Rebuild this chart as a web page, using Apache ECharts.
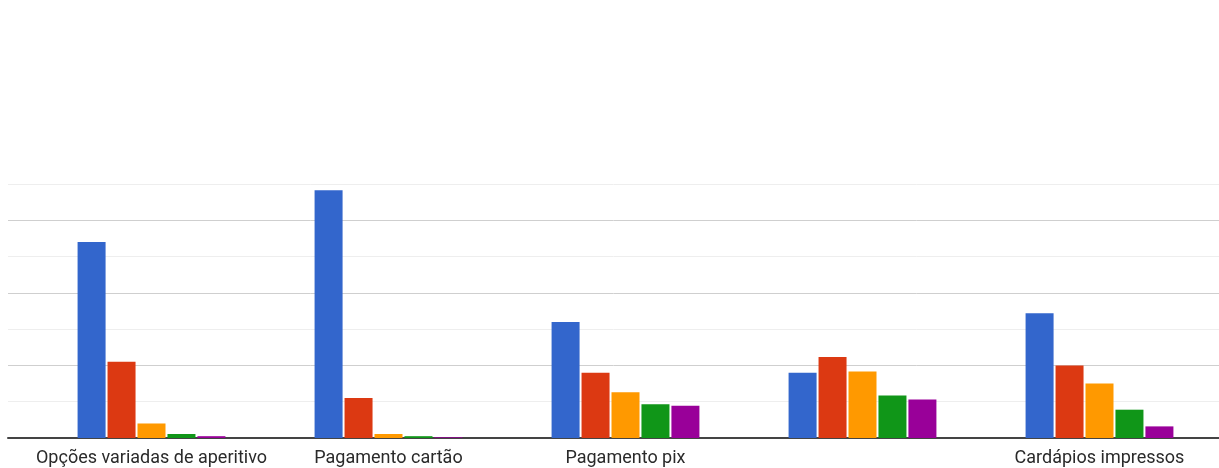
<!DOCTYPE html>
<html>
<head>
<meta charset="utf-8">
<script src="https://cdn.jsdelivr.net/npm/echarts@6/dist/echarts.min.js"></script>
<style>
  html, body { margin: 0; padding: 0; background: #ffffff; }
  #chart { width: 1219px; height: 468px; }
</style>
</head>
<body>
<div id="chart"></div>
<script>
// Categories (the fourth one has no visible label)
const categories = ['Opções variadas de aperitivo', 'Pagamento cartão', 'Pagamento pix', '', 'Cardápios impressos'];

// Response counts per category, one array per answer option
const seriesBlue   = [54, 68.3, 32, 18, 34.4];
const seriesRed    = [21, 11, 18, 22.3, 20];
const seriesOrange = [4, 1.1, 12.6, 18.3, 15];
const seriesGreen  = [1.1, 0.5, 9.3, 11.7, 7.8];
const seriesPurple = [0.5, 0.2, 8.9, 10.6, 3.2];

// Value axis range
const yMin = 0;
const yMax = 70;
const yStep = 10;

const palette = ['#3366cc', '#dc3912', '#ff9900', '#109618', '#990099'];
const seriesData = [seriesBlue, seriesRed, seriesOrange, seriesGreen, seriesPurple];
const seriesNames = ['1', '2', '3', '4', '5'];

const chart = echarts.init(document.getElementById('chart'), null, { renderer: 'canvas' });

const option = {
  animation: false,
  backgroundColor: '#ffffff',
  grid: [
    // wide grid: gridlines and baseline
    { left: 8, right: 0, top: 184, bottom: 30, containLabel: false },
    // bar grid
    { left: 33, right: 1, top: 184, bottom: 30, containLabel: false }
  ],
  xAxis: [
    {
      gridIndex: 0, type: 'value', min: 0, max: 1,
      axisLine: { show: true, onZero: false, lineStyle: { color: '#444444', width: 2 } },
      axisTick: { show: false }, axisLabel: { show: false }, splitLine: { show: false }
    },
    {
      gridIndex: 1, type: 'category', data: categories,
      axisLine: { show: false }, axisTick: { show: false },
      axisLabel: {
        show: true, interval: 0, margin: 11,
        color: '#2a2a2a', fontFamily: 'Roboto, Arial, sans-serif', fontSize: 18
      },
      splitLine: { show: false }
    }
  ],
  yAxis: [
    {
      gridIndex: 0, type: 'value', min: yMin, max: yMax, interval: yStep,
      axisLine: { show: false }, axisTick: { show: false }, axisLabel: { show: false },
      splitLine: { show: true, lineStyle: { color: ['#cfcfcf', '#eeeeee'], width: 1 } }
    },
    {
      gridIndex: 1, type: 'value', min: yMin, max: yMax, interval: yStep,
      axisLine: { show: false }, axisTick: { show: false }, axisLabel: { show: false },
      splitLine: { show: false }
    }
  ],
  series: seriesData.map((d, i) => ({
    name: seriesNames[i],
    type: 'bar',
    xAxisIndex: 1,
    yAxisIndex: 1,
    data: d,
    barWidth: 28,
    barGap: '7%',
    itemStyle: { color: palette[i] },
    z: 1
  }))
};

chart.setOption(option);
</script>
</body>
</html>
